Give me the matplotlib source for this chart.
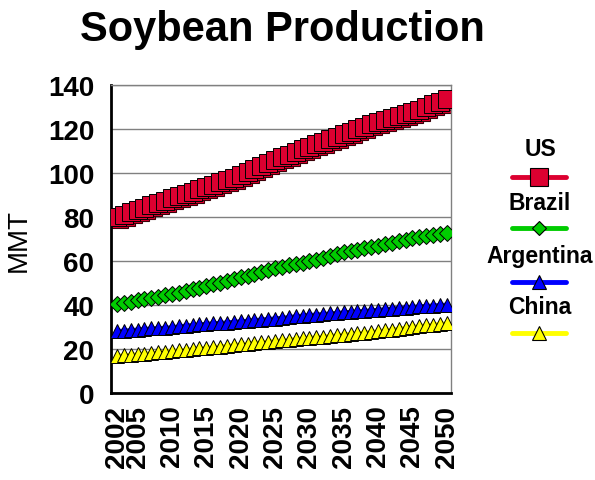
import matplotlib
matplotlib.use("Agg")
import matplotlib.pyplot as plt
from matplotlib.lines import Line2D
from matplotlib.transforms import offset_copy

plt.rcParams['font.family'] = ['Liberation Sans', 'DejaVu Sans']

years = list(range(2002, 2051))
tick_years = [2002, 2005, 2010, 2015, 2020, 2025, 2030, 2035, 2040, 2045, 2050]

us = [80, 81, 82.2, 83.3, 84.4, 85.4, 86.4, 87.5, 88.6, 89.5,
      90.5, 91.6, 92.7, 93.8, 94.8, 95.9, 97, 98, 99, 100.4,
      101.8, 103.2, 104.6, 106, 107.2, 108.4, 109.6, 110.8, 112, 113.1,
      114.2, 115.3, 116.5, 117.7, 118.8, 119.9, 121, 122.2, 123.4, 124.2,
      125, 125.9, 126.8, 127.6, 128.8, 130, 131.2, 132.4, 133.5]
brazil = [40.5, 41, 41.6, 42.2, 42.8, 43.4, 44, 44.5, 45, 45.7,
          46.4, 47.2, 48, 48.7, 49.5, 50.3, 51, 51.8, 52.7, 53.5,
          54.3, 55.1, 55.9, 56.8, 57.5, 58.1, 58.7, 59.3, 60, 60.8,
          61.6, 62.5, 63.4, 64.2, 64.8, 65.3, 65.9, 66.4, 67, 67.7,
          68.3, 69, 69.7, 70.4, 70.9, 71.4, 71.9, 72.4, 73]
argentina = [28.3, 28.5, 28.7, 29, 29.2, 29.5, 29.6, 29.8, 30, 30.4,
             30.8, 31, 31.3, 31.6, 31.8, 32, 32.2, 32.5, 32.7, 33,
             33.3, 33.5, 33.8, 34, 34.3, 34.6, 35, 35.3, 35.6, 35.8,
             36, 36.3, 36.5, 36.8, 37, 37.2, 37.4, 37.7, 37.9, 38.2,
             38.5, 38.8, 39, 39.2, 39.5, 39.7, 39.9, 40.1, 40.3]
china = [17, 17.3, 17.5, 17.8, 18, 18.3, 18.6, 18.9, 19.2, 19.5,
         19.8, 20.1, 20.4, 20.7, 21, 21.3, 21.6, 21.9, 22.3, 22.6,
         22.9, 23.2, 23.5, 23.8, 24.1, 24.4, 24.7, 25, 25.2, 25.5,
         25.8, 26.1, 26.4, 26.7, 27, 27.3, 27.6, 27.9, 28.2, 28.6,
         29, 29.4, 29.8, 30.2, 30.6, 30.9, 31.2, 31.5, 31.8]

names = ['US', 'Brazil', 'Argentina', 'China']
series = [us, brazil, argentina, china]
colors = ['#DC0030', '#00CC00', '#0000FF', '#FFFF00']
markers = ['s', 'D', '^', '^']
sizes = [13, 8.5, 10.5, 10.5]

fig = plt.figure(figsize=(5.95, 4.81), dpi=100)
ax = fig.add_axes([0.1866, 0.180, 0.571, 0.641])

# slight 3-d look on the squares
shadow_tr = offset_copy(ax.transData, fig=fig, x=2, y=-2, units='dots')
ax.plot(years, us, ls='none', marker='s', ms=13, mfc='#DC0030',
        mec='#3a0008', mew=0.8, transform=shadow_tr, zorder=2)

for vals, c, m, ms in zip(series, colors, markers, sizes):
    ax.plot(years, vals, color=c, lw=3, marker=m, ms=ms, mfc=c,
            mec='black', mew=0.7, zorder=3)

ax.set_xlim(2001.13, 2050.58)
ax.set_ylim(0, 140)
ax.set_yticks(range(0, 141, 20))
ax.set_xticks(tick_years)
ax.set_xticklabels([str(y) for y in tick_years], rotation=90)
for lab in ax.get_xticklabels() + ax.get_yticklabels():
    lab.set_fontweight('bold')
    lab.set_fontsize(20)
ax.tick_params(axis='both', length=0)
ax.tick_params(axis='y', pad=12)
ax.tick_params(axis='x', pad=8)
ax.yaxis.grid(True, color='#808080', lw=1)
ax.set_axisbelow(True)
for side in ['top', 'right']:
    ax.spines[side].set_color('#808080')
    ax.spines[side].set_linewidth(1)
for side in ['left', 'bottom']:
    ax.spines[side].set_color('black')
    ax.spines[side].set_linewidth(2)

ax.set_ylabel('MMT', fontsize=20, labelpad=12)
fig.text(0.474, 0.937, 'Soybean Production', ha='center', va='center',
         fontsize=30, fontweight='bold')

# legend, label stacked above each line sample
leg_text_y = [150, 203, 256, 308]
leg_line_y = [178, 229, 283, 334]
leg_ms = [13, 7, 10, 10]
W, H = 595, 481
for name, c, m, ms, ty, ly in zip(names, colors, markers, leg_ms,
                                  leg_text_y, leg_line_y):
    fig.text(540 / W, 1 - ty / H, name, ha='center', va='center',
             fontsize=16.5, fontweight='bold')
    fig.add_artist(Line2D([512 / W, 566 / W], [1 - ly / H, 1 - ly / H],
                          transform=fig.transFigure, color=c, lw=3.5,
                          solid_capstyle='round'))
    fig.add_artist(Line2D([539 / W], [1 - ly / H], transform=fig.transFigure,
                          ls='none', marker=m, ms=ms, mfc=c, mec='black',
                          mew=0.8))

fig.savefig('out.png', dpi=100)
